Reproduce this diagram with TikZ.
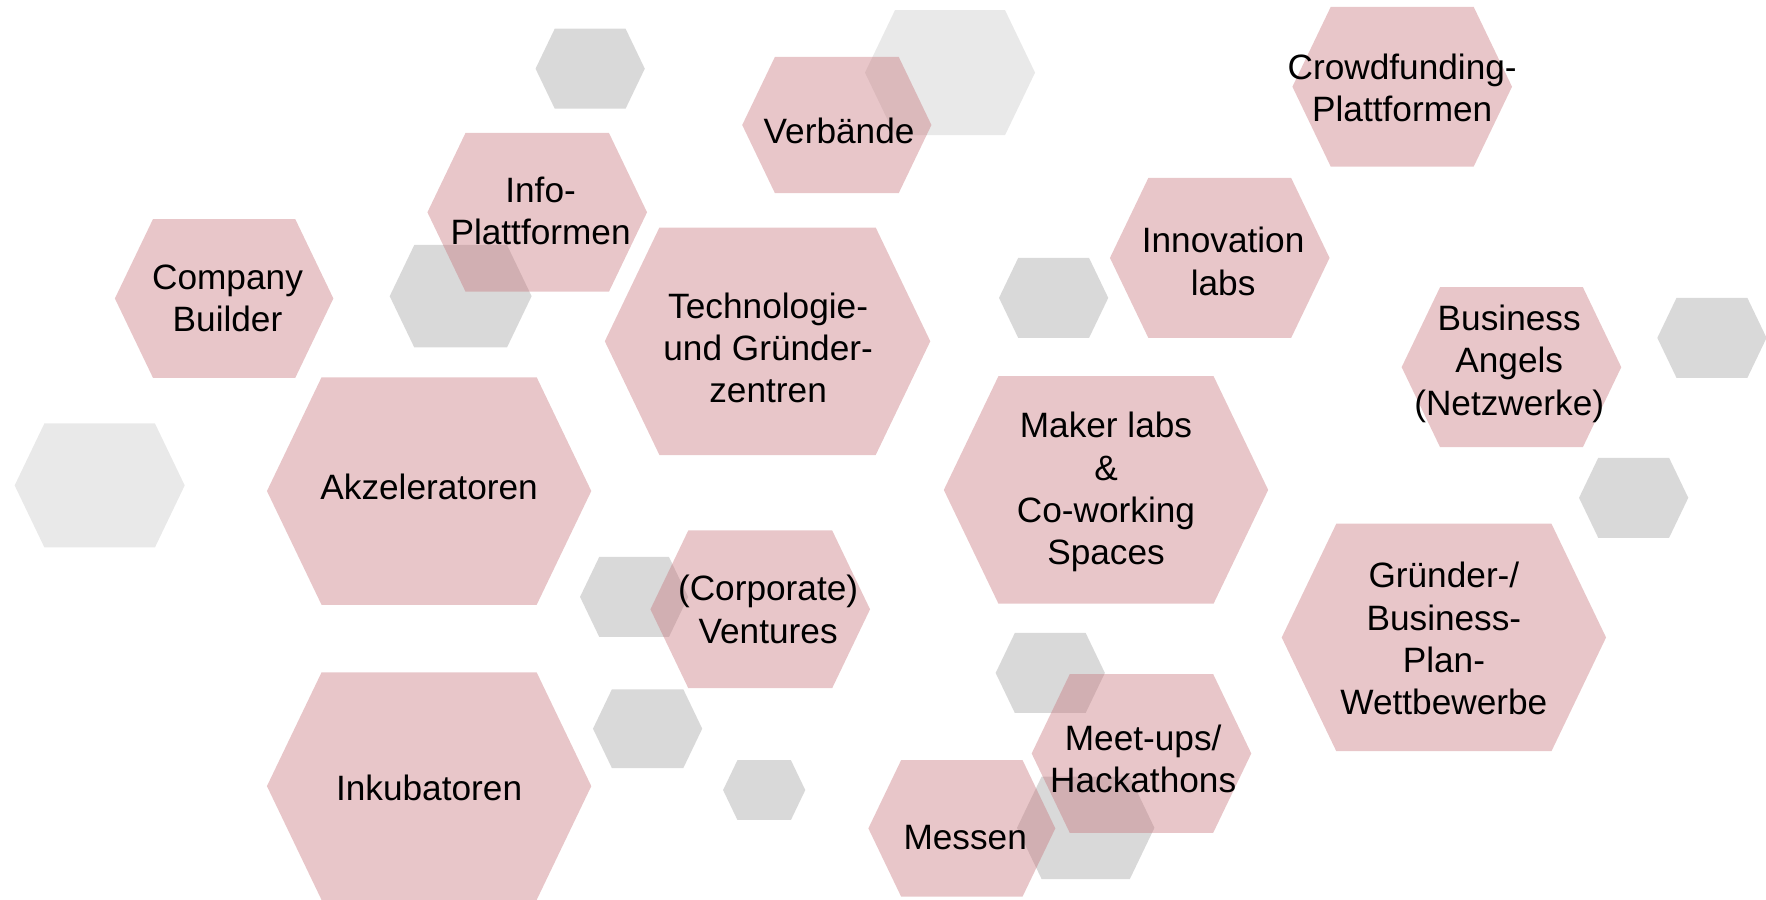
\documentclass[tikz,border=0pt]{standalone}
\usepackage{fontspec}
\setmainfont{Liberation Sans}
\definecolor{rose}{RGB}{198,113,120}
\definecolor{greyA}{RGB}{217,217,217}
\definecolor{greyB}{RGB}{233,233,233}
\tikzset{
  pinkhex/.style={fill=rose, fill opacity=0.4},
  greyhex/.style={fill=greyA},
  lightgreyhex/.style={fill=greyB},
  hexlabel/.style={align=center, font=\fontsize{8.9}{10.7}\selectfont, inner sep=0pt, text=black}
}
% \hexshape{cx}{cy}{width}{height}{style}
\newcommand{\hexshape}[5]{%
  \fill[#5] ({#1-#3/2},{#2}) -- ({#1-#3/2+0.24*#4},{#2-#4/2}) -- ({#1+#3/2-0.24*#4},{#2-#4/2}) -- ({#1+#3/2},{#2}) -- ({#1+#3/2-0.24*#4},{#2+#4/2}) -- ({#1-#3/2+0.24*#4},{#2+#4/2}) -- cycle;}
\begin{document}
\begin{tikzpicture}[x=0.1mm,y=-0.1mm]
\useasboundingbox (0,0) rectangle (1568,799);
% grey hexagons
\hexshape{524}{61}{97}{71}{greyhex}
\hexshape{843.5}{64.5}{151}{111}{lightgreyhex}
\hexshape{409}{263}{126}{91}{greyhex}
\hexshape{88.5}{431}{151}{110}{lightgreyhex}
\hexshape{935.5}{264.5}{97}{71}{greyhex}
\hexshape{1520}{300}{97}{71}{greyhex}
\hexshape{1450.5}{442}{97}{71}{greyhex}
\hexshape{563}{530}{96}{71}{greyhex}
\hexshape{575}{647}{97}{70}{greyhex}
\hexshape{678.5}{701.5}{73}{53}{greyhex}
\hexshape{932.5}{597.5}{97}{71}{greyhex}
\hexshape{964}{735}{122}{91}{greyhex}
% pink hexagons
\hexshape{199}{265}{194}{141}{pinkhex}
\hexshape{477}{188.5}{195}{141}{pinkhex}
\hexshape{743}{111}{168}{121}{pinkhex}
\hexshape{681.5}{303}{289}{202}{pinkhex}
\hexshape{381}{436}{288}{202}{pinkhex}
\hexshape{381}{698}{288}{202}{pinkhex}
\hexshape{675}{541}{195}{140}{pinkhex}
\hexshape{982}{435}{288}{202}{pinkhex}
\hexshape{1083}{229}{195}{142}{pinkhex}
\hexshape{1245}{77}{195}{142}{pinkhex}
\hexshape{1342}{326}{195}{142}{pinkhex}
\hexshape{1282}{566}{288}{202}{pinkhex}
\hexshape{1013.5}{669}{195}{141}{pinkhex}
\hexshape{854}{735.5}{166}{121}{pinkhex}
% labels
\node[hexlabel] (cb) at (202,265) {Company\\Builder};
\node[hexlabel] (ip) at (480,187) {Info-\\Plattformen};
\node[hexlabel] (vb) at (745,116) {Verbände};
\node[hexlabel] (tg) at (682,309) {Technologie-\\und Gründer-\\zentren};
\node[hexlabel] (ak) at (381,432) {Akzeleratoren};
\node[hexlabel] (ik) at (381,700) {Inkubatoren};
\node[hexlabel] (cv) at (682,541) {(Corporate)\\Ventures};
\node[hexlabel] (ml) at (982,437) {Maker labs\\\&\\Co-working\\Spaces};
\node[hexlabel] (il) at (1086,232) {Innovation\\labs};
\node[hexlabel] (cf) at (1245,78) {Crowdfunding-\\Plattformen};
\node[hexlabel] (ba) at (1340,323) {Business\\Angels\\(Netzwerke)};
\node[hexlabel] (gw) at (1282,567) {Gründer-/\\Business-\\Plan-\\Wettbewerbe};
\node[hexlabel] (mu) at (1015,674) {Meet-ups/\\Hackathons};
\node[hexlabel] (ms) at (857,744) {Messen};
\end{tikzpicture}
\end{document}
